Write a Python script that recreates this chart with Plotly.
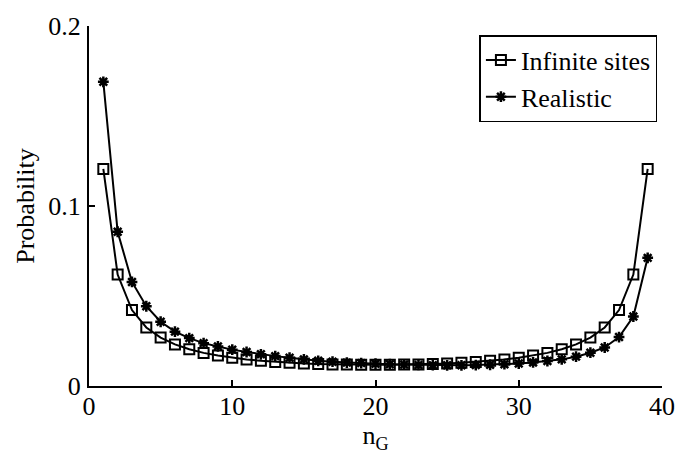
import plotly.graph_objects as go

n_g = list(range(1, 40))

infinite_sites = [
    0.1206, 0.0619, 0.0422, 0.0325, 0.0269, 0.0231, 0.0204, 0.0184, 0.0169, 0.0157,
    0.0147, 0.0140, 0.0134, 0.0129, 0.0125, 0.0122, 0.0120, 0.0119, 0.0118, 0.0118,
    0.0118, 0.0119, 0.0120, 0.0122, 0.0125, 0.0129, 0.0134, 0.0140, 0.0147, 0.0157,
    0.0169, 0.0184, 0.0204, 0.0231, 0.0269, 0.0325, 0.0422, 0.0619, 0.1206,
]

realistic = [
    0.1690, 0.0857, 0.0578, 0.0443, 0.0357, 0.0302, 0.0266, 0.0238, 0.0220, 0.0202,
    0.0189, 0.0176, 0.0166, 0.0157, 0.0148, 0.0140, 0.0135, 0.0130, 0.0127, 0.0124,
    0.0121, 0.0119, 0.0117, 0.0116, 0.0115, 0.0115, 0.0116, 0.0118, 0.0121, 0.0125,
    0.0131, 0.0139, 0.0148, 0.0163, 0.0185, 0.0214, 0.0272, 0.0386, 0.0712,
]

x_ticks = [0, 10, 20, 30, 40]
y_ticks = [0, 0.1, 0.2]
y_tick_labels = ["0", "0.1", "0.2"]

FONT = "Liberation Serif, Times New Roman, serif"
FS = 26

fig = go.Figure()
fig.add_trace(go.Scatter(
    x=n_g, y=infinite_sites, mode="lines+markers", name="Infinite sites",
    line=dict(color="black", width=2),
    marker=dict(symbol="square-open", size=10, color="black", line=dict(width=2, color="black")),
))
fig.add_trace(go.Scatter(
    x=n_g, y=realistic, mode="lines+markers", name="Realistic",
    line=dict(color="black", width=2),
    marker=dict(symbol="asterisk-open", size=9, color="black", line=dict(width=2.5, color="black")),
))

fig.update_layout(
    width=687, height=459,
    margin=dict(l=89, r=14, t=22, b=73),
    paper_bgcolor="white", plot_bgcolor="white",
    font=dict(family=FONT, size=FS, color="black"),
    showlegend=True,
    legend=dict(
        x=0.992, y=0.975, xanchor="right", yanchor="top",
        bgcolor="white", bordercolor="black", borderwidth=1.5,
        font=dict(family=FONT, size=FS, color="black"),
        tracegroupgap=0,
    ),
    xaxis=dict(
        range=[0, 40], tickvals=x_ticks, ticks="inside", ticklen=6, tickwidth=1.5,
        tickcolor="black", showline=True, linecolor="black", linewidth=2,
        showgrid=False, zeroline=False, mirror=False, ticklabelstandoff=-4,
        title=dict(text="n<sub>G</sub>", font=dict(family=FONT, size=FS), standoff=2),
        tickfont=dict(family=FONT, size=FS),
    ),
    yaxis=dict(
        range=[0, 0.2], tickvals=y_ticks, ticktext=y_tick_labels, ticks="inside",
        ticklen=6, tickwidth=1.5, tickcolor="black", showline=True, linecolor="black",
        linewidth=2, showgrid=False, zeroline=False, ticklabelstandoff=1,
        title=dict(text="Probability", font=dict(family=FONT, size=FS), standoff=6),
        tickfont=dict(family=FONT, size=FS),
    ),
)

fig.write_html("out.html")
